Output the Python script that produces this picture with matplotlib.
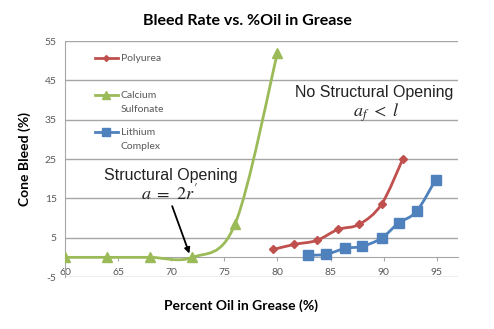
import numpy as np
import matplotlib
matplotlib.use("Agg")
import matplotlib.pyplot as plt
from matplotlib.path import Path
from matplotlib.patches import PathPatch

plt.rcParams['mathtext.fontset'] = 'stix'
plt.rcParams['axes.unicode_minus'] = False

# data
ca_x = [60, 64, 68, 72, 76, 80]
ca_y = [0, 0, 0, 0, 8.4, 52]

pu_x = [79.6, 81.6, 83.7, 85.7, 87.7, 89.8, 91.8]
pu_y = [2.0, 3.3, 4.3, 7.1, 8.4, 13.5, 25.0]

li_x = [82.9, 84.6, 86.4, 88.0, 89.8, 91.4, 93.1, 94.9]
li_y = [0.5, 0.8, 2.3, 2.8, 4.9, 8.7, 11.7, 19.8]

x_ticks = [60, 65, 70, 75, 80, 85, 90, 95]
y_ticks = [-5, 5, 15, 25, 35, 45, 55]

red = '#C0504D'
green = '#9BBB59'
blue = '#4F81BD'
grid_c = '#A6A6A6'
lab_c = '#595959'


def smooth_path(xs, ys):
    # Excel style smoothed line: cubic bezier through the points
    pts = np.column_stack([xs, ys]).astype(float)
    n = len(pts)
    verts = [pts[0]]
    codes = [Path.MOVETO]
    for i in range(n - 1):
        p0 = pts[i - 1] if i > 0 else pts[i]
        p1 = pts[i]
        p2 = pts[i + 1]
        p3 = pts[i + 2] if i + 2 < n else pts[i + 1]
        c1 = p1 + (p2 - p0) / 6.0
        c2 = p2 - (p3 - p1) / 6.0
        verts += [c1, c2, p2]
        codes += [Path.CURVE4] * 3
    return Path(verts, codes)


fig = plt.figure(figsize=(4.94, 3.29), dpi=100)
ax = fig.add_axes([0.1316, 0.158, 0.7955, 0.717])

series = [
    (pu_x, pu_y, red, 'D', 4, 'Polyurea', ''),
    (ca_x, ca_y, green, '^', 7, 'Calcium', 'Sulfonate'),
    (li_x, li_y, blue, 's', 7, 'Lithium', 'Complex'),
]
leg_y = [0.928, 0.771, 0.614]

for (xs, ys, c, m, ms, lab1, lab2), ly in zip(series, leg_y):
    ax.add_patch(PathPatch(smooth_path(xs, ys), fill=False, ec=c, lw=2, zorder=3))
    ax.plot(xs, ys, ls='none', marker=m, ms=ms, color=c, zorder=4)
    # legend entry, handle aligned with the first text line
    ax.plot([0.076, 0.1055, 0.135], [ly, ly, ly], transform=ax.transAxes,
            color=c, lw=2, marker=m, ms=ms * 0.75, markevery=[1], clip_on=False)
    ax.text(0.142, ly, lab1, transform=ax.transAxes, va='center', ha='left',
            fontsize=7.5, family='Lato', color=lab_c)
    if lab2:
        ax.text(0.142, ly - 0.059, lab2, transform=ax.transAxes, va='center',
                ha='left', fontsize=7.5, family='Lato', color=lab_c)

ax.set_xlim(60, 97)
ax.set_ylim(-5, 55)
ax.set_xticks(x_ticks)
ax.set_yticks(y_ticks)
ax.yaxis.grid(True, color=grid_c, lw=1)
ax.set_axisbelow(True)

ax.spines['top'].set_visible(False)
ax.spines['right'].set_visible(False)
ax.spines['bottom'].set_position(('data', 0))
ax.spines['bottom'].set_color(grid_c)
ax.spines['left'].set_color(grid_c)
ax.tick_params(axis='y', length=0, pad=6, labelsize=7.5, labelcolor=lab_c)
ax.tick_params(axis='x', length=3, color=grid_c, pad=5, labelsize=7.5, labelcolor=lab_c)
for t in ax.get_xticklabels() + ax.get_yticklabels():
    t.set_family('Lato')

fig.text(0.5, 0.936, 'Bleed Rate vs. %Oil in Grease', ha='center', va='center',
         fontsize=11.5, fontweight='bold', family='Lato')
ax.set_xlabel('Percent Oil in Grease (%)', fontsize=10, fontweight='bold',
              family='Lato')
ax.xaxis.set_label_coords(0.448, -0.095)
ax.set_ylabel('Cone Bleed (%)', fontsize=10, fontweight='bold',
              family='Lato', labelpad=10)

ax.text(89.15, 42.0, 'No Structural Opening', ha='center', va='center',
        fontsize=11.5, family='Liberation Sans', color='#222222')
ax.text(89.3, 36.9, r'$a_f\ <\ l$', ha='center', va='center', fontsize=13,
        color='#222222')
ax.text(69.95, 20.9, 'Structural Opening', ha='center', va='center',
        fontsize=11.5, family='Liberation Sans', color='#222222')
ax.text(69.8, 16.2, r"$a\ =\ 2r'$", ha='center', va='center', fontsize=13,
        color='#222222')
ax.annotate('', xy=(71.8, 0.3), xytext=(70.0, 13.7),
            arrowprops=dict(arrowstyle='-|>', color='black', lw=1.3,
                            mutation_scale=8))

fig.savefig('out.png', dpi=100)
